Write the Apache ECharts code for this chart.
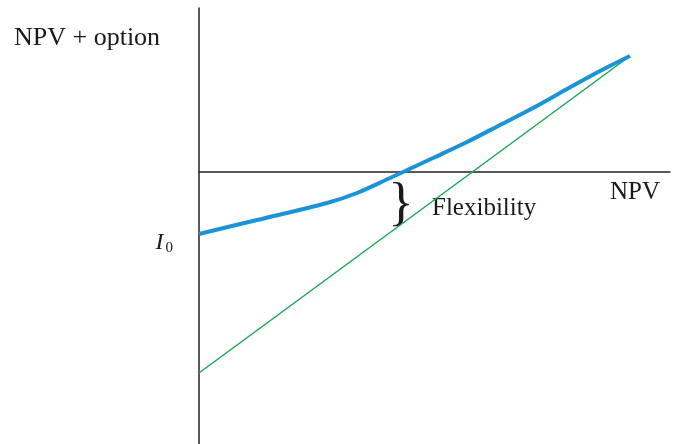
<!DOCTYPE html>
<html>
<head>
<meta charset="utf-8">
<script src="https://cdn.jsdelivr.net/npm/echarts@6/dist/echarts.min.js"></script>
<style>html,body{margin:0;padding:0;background:#fff;}#c{width:673px;height:444px;}</style>
</head>
<body>
<div id="c"></div>
<script>
// NPV (x) vs NPV + option (y), arbitrary units
var npvLine = [[0, -201], [431, 116]];
var optionCurve = [[0, -62], [58, -48], [128, -31], [158, -21], [191, -6], [204, 0], [234, 14], [268, 30], [301, 47], [334, 64], [368, 83], [401, 101], [431, 116]];
var labels = { yName: 'NPV + option', xName: 'NPV', flex: 'Flexibility', i0: 'I', i0sub: '0' };
var bracePoint = [202, -33];

var chart = echarts.init(document.getElementById('c'));
var serif = 'Liberation Serif';
chart.setOption({
  animation: false,
  grid: { left: 199, right: 3, top: 8, bottom: 0 },
  xAxis: { type: 'value', min: 0, max: 471, axisLine: { onZero: true, lineStyle: { color: '#222', width: 1.5 } }, axisTick: { show: false }, axisLabel: { show: false }, splitLine: { show: false } },
  yAxis: { type: 'value', min: -272, max: 164, axisLine: { show: true, onZero: false, lineStyle: { color: '#222', width: 1.5 } }, axisTick: { show: false }, axisLabel: { show: false }, splitLine: { show: false } },
  series: [
    { type: 'line', data: npvLine, symbol: 'none', lineStyle: { color: '#1aa655', width: 1.5 }, z: 2 },
    { type: 'line', data: optionCurve, symbol: 'none', smooth: 0.3, lineStyle: { color: '#1b93d9', width: 4 }, z: 3 }
  ]
});
var bp = chart.convertToPixel({ gridIndex: 0 }, bracePoint);
chart.setOption({
  graphic: [
    { type: 'text', left: 14, top: 25, style: { text: labels.yName, font: '26px ' + serif, fill: '#1a1a1a' } },
    { type: 'text', x: 660, y: 192, style: { text: labels.xName, font: '25px ' + serif, fill: '#1a1a1a', textAlign: 'right', textVerticalAlign: 'middle' } },
    { type: 'text', x: 432, y: 208, style: { text: labels.flex, font: '25px ' + serif, fill: '#1a1a1a', textVerticalAlign: 'middle' } },
    { type: 'text', x: bp[0], y: bp[1], style: { text: '}', font: '53px ' + serif, fill: '#1a1a1a', textAlign: 'center', textVerticalAlign: 'middle' } },
    { type: 'text', x: 173, y: 243, style: { text: '{i|' + labels.i0 + '}{s|' + labels.i0sub + '}', textAlign: 'right', textVerticalAlign: 'middle', rich: { i: { fontFamily: serif, fontStyle: 'italic', fontSize: 24, fill: '#1a1a1a', verticalAlign: 'top' }, s: { fontFamily: serif, fontSize: 15, fill: '#1a1a1a', padding: [10, 0, 0, 2] } } } }
  ]
});
</script>
</body>
</html>
